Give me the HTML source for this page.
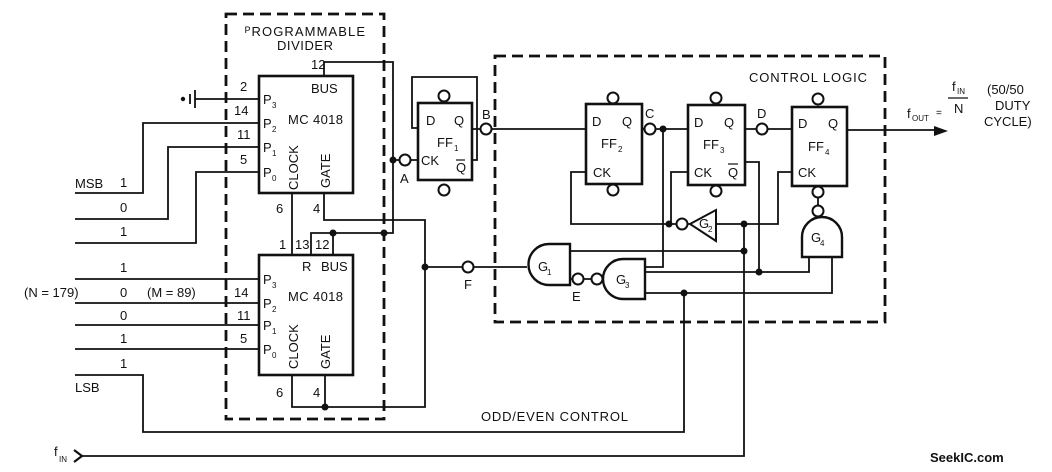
<!DOCTYPE html>
<html><head><meta charset="utf-8"><style>
html,body{margin:0;padding:0;background:#fff;}
svg{display:block;}
text{font-family:"Liberation Sans",sans-serif;fill:#111;}
</style></head><body>
<svg width="1052" height="472" viewBox="0 0 1052 472" xmlns="http://www.w3.org/2000/svg">
<g fill="none" stroke="#111" stroke-width="2.8" stroke-dasharray="11,6">
<rect x="226" y="14" width="158" height="405"/>
<rect x="495" y="56" width="390" height="266"/>
</g>
<g fill="none" stroke="#111" stroke-width="1.8">
<rect x="259" y="76" width="94" height="117" stroke-width="2.6"/>
<rect x="259" y="255" width="94" height="120" stroke-width="2.6"/>
<path d="M259,99 H195 M195,90 V108 M190,94 V104"/>
<path d="M259,123 H143 V193 H75"/>
<path d="M259,147 H168 V219 H75"/>
<path d="M259,172 H196 V243 H75"/>
<path d="M259,279 H75 M259,303 H75 M259,325 H75 M259,349 H75"/>
<path d="M75,375 H143 V432 H684 V293"/>
<path d="M324,76 V62 H393 V233 H311 V255 M333,233 V255"/>
<path d="M292,193 V255"/>
<path d="M324,193 V220 H425 V407 H292 V375 M325,375 V407"/>
<path d="M425,267 H462 M474,267 H527"/>
<rect x="418" y="103" width="54" height="77" stroke-width="2.6"/>
<path d="M393,160 H399 M411,160 H418"/>
<path d="M418,128 H412 V77 H477 V160 H472"/>
<path d="M472,129 H480 M492,129 H586"/>
<rect x="586" y="104" width="56" height="80" stroke-width="2.6"/>
<rect x="688" y="105" width="57" height="80" stroke-width="2.6"/>
<rect x="792" y="107" width="55" height="79" stroke-width="2.6"/>
<path d="M642,129 H644 M656,129 H688"/>
<path d="M745,129 H756 M768,129 H792"/>
<path d="M847,130 H942"/>
<path d="M586,172 H571 V224 H676 M688,224 H690"/>
<path d="M716,224 H778 V172 H792"/>
<path d="M688,172 H671 V224"/>
<path d="M663,129 V267 H645"/>
<path d="M745,162 H759 V272"/>
<path d="M744,224 V456 H80"/>
<path d="M570,244 H549 A20.5,20.5 0 0 0 549,285 H570 Z" stroke-width="2.4"/>
<path d="M570,251 H744"/>
<path d="M570,279 H572 M584,279 H591"/>
<path d="M645,259 H623 A20,20 0 0 0 623,299 H645 Z" stroke-width="2.4"/>
<path d="M645,272 H809 V257 M645,293 H832 V257"/>
<path d="M802,257 V237 A20,20 0 0 1 842,237 V257 Z" stroke-width="2.4"/>
<path d="M818,197 V205 M818,216 V217"/>
<path d="M690,224 L716,210 L716,241 Z" stroke-width="2"/>
<path d="M74,450 L82,456 L74,462" stroke-width="2.2"/>
</g>
<g fill="#fff" stroke="#111" stroke-width="2">
<circle cx="444" cy="96" r="5.5"/><circle cx="444" cy="190" r="5.5"/>
<circle cx="405" cy="160" r="5.5"/><circle cx="486" cy="129" r="5.5"/>
<circle cx="468" cy="267" r="5.5"/>
<circle cx="613" cy="98" r="5.5"/><circle cx="613" cy="190" r="5.5"/>
<circle cx="650" cy="129" r="5.5"/>
<circle cx="716" cy="98" r="5.5"/><circle cx="716" cy="191" r="5.5"/>
<circle cx="762" cy="129" r="5.5"/>
<circle cx="818" cy="99" r="5.5"/><circle cx="818" cy="192" r="5.5"/><circle cx="818" cy="211" r="5.5"/>
<circle cx="682" cy="224" r="5.5"/>
<circle cx="578" cy="279" r="5.5"/><circle cx="597" cy="279" r="5.5"/>
</g>
<g fill="#111">
<circle cx="183" cy="99" r="2.2"/>
<circle cx="333" cy="233" r="3.5"/><circle cx="384" cy="233" r="3.5"/>
<circle cx="393" cy="160" r="3.5"/><circle cx="425" cy="267" r="3.5"/>
<circle cx="325" cy="407" r="3.5"/>
<circle cx="663" cy="129" r="3.5"/><circle cx="669" cy="224" r="3.5"/>
<circle cx="744" cy="224" r="3.5"/><circle cx="744" cy="251" r="3.5"/>
<circle cx="759" cy="272" r="3.5"/><circle cx="684" cy="293" r="3.5"/>
<path d="M948,131 L934,126 L934,136 Z"/>
</g>
<g font-size="13">
<text x="245" y="36" textLength="120">ᴾROGRAMMABLE</text>
<text x="277" y="50" textLength="56">DIVIDER</text>
<text x="311" y="69">12</text>
<text x="240" y="91">2</text><text x="234" y="115">14</text><text x="237" y="139">11</text><text x="240" y="164">5</text>
<text x="311" y="93">BUS</text>
<text x="263" y="104">P</text><text x="272" y="108" font-size="8">3</text>
<text x="263" y="128">P</text><text x="272" y="132" font-size="8">2</text>
<text x="263" y="152">P</text><text x="272" y="156" font-size="8">1</text>
<text x="263" y="177">P</text><text x="272" y="181" font-size="8">0</text>
<text x="288" y="124" textLength="55">MC 4018</text>
<text transform="translate(298,190) rotate(-90)">CLOCK</text>
<text transform="translate(330,188) rotate(-90)">GATE</text>
<text x="276" y="213">6</text><text x="313" y="213">4</text>
<text x="75" y="188">MSB</text><text x="120" y="187">1</text>
<text x="120" y="212">0</text><text x="120" y="236">1</text>
<text x="279" y="249">1</text><text x="295" y="249">13</text><text x="315" y="249">12</text>
<text x="302" y="271">R</text><text x="321" y="271">BUS</text>
<text x="263" y="284">P</text><text x="272" y="288" font-size="8">3</text>
<text x="263" y="308">P</text><text x="272" y="312" font-size="8">2</text>
<text x="263" y="330">P</text><text x="272" y="334" font-size="8">1</text>
<text x="263" y="354">P</text><text x="272" y="358" font-size="8">0</text>
<text x="288" y="301" textLength="55">MC 4018</text>
<text transform="translate(298,369) rotate(-90)">CLOCK</text>
<text transform="translate(330,369) rotate(-90)">GATE</text>
<text x="276" y="397">6</text><text x="313" y="397">4</text>
<text x="120" y="272">1</text>
<text x="24" y="297">(N = 179)</text><text x="120" y="297">0</text><text x="147" y="297">(M = 89)</text>
<text x="234" y="297">14</text>
<text x="120" y="320">0</text><text x="237" y="320">11</text>
<text x="120" y="343">1</text><text x="240" y="343">5</text>
<text x="120" y="368">1</text><text x="75" y="392">LSB</text>
<text x="54" y="456">f</text><text x="59" y="462" font-size="8">IN</text>
<text x="481" y="421" textLength="147">ODD/EVEN CONTROL</text>
<text x="426" y="125">D</text><text x="454" y="125">Q</text>
<text x="437" y="147">FF</text><text x="454" y="151" font-size="8">1</text>
<text x="421" y="165">CK</text>
<text x="456" y="172">Q</text><path d="M456,160 H465" stroke="#111" stroke-width="1.2"/>
<text x="400" y="183">A</text><text x="482" y="119">B</text>
<text x="749" y="82" textLength="118">CONTROL LOGIC</text>
<text x="592" y="126">D</text><text x="622" y="126">Q</text>
<text x="601" y="148">FF</text><text x="618" y="152" font-size="8">2</text>
<text x="593" y="177">CK</text>
<text x="645" y="118">C</text>
<text x="694" y="127">D</text><text x="724" y="127">Q</text>
<text x="703" y="149">FF</text><text x="720" y="153" font-size="8">3</text>
<text x="694" y="177">CK</text>
<text x="728" y="177">Q</text><path d="M728,164 H738" stroke="#111" stroke-width="1.2"/>
<text x="757" y="118">D</text>
<text x="798" y="128">D</text><text x="828" y="128">Q</text>
<text x="808" y="151">FF</text><text x="825" y="155" font-size="8">4</text>
<text x="798" y="177">CK</text>
<text x="538" y="271">G</text><text x="547" y="275" font-size="8">1</text>
<text x="616" y="284">G</text><text x="625" y="288" font-size="8">3</text>
<text x="811" y="242">G</text><text x="820" y="246" font-size="8">4</text>
<text x="699" y="228">G</text><text x="708" y="232" font-size="8">2</text>
<text x="572" y="301">E</text><text x="464" y="289">F</text>
<text x="907" y="118">f</text><text x="912" y="121" font-size="8">OUT</text>
<text x="936" y="116" font-size="10">=</text>
<text x="952" y="91">f</text><text x="957" y="94" font-size="8">IN</text>
<path d="M948,98 H968" stroke="#111" stroke-width="1.2"/>
<text x="954" y="113">N</text>
<text x="987" y="94">(50/50</text>
<text x="995" y="110">DUTY</text>
<text x="984" y="126">CYCLE)</text>
</g>
<text x="930" y="462" font-size="13" font-weight="bold">SeekIC.com</text>
</svg>
</body></html>
